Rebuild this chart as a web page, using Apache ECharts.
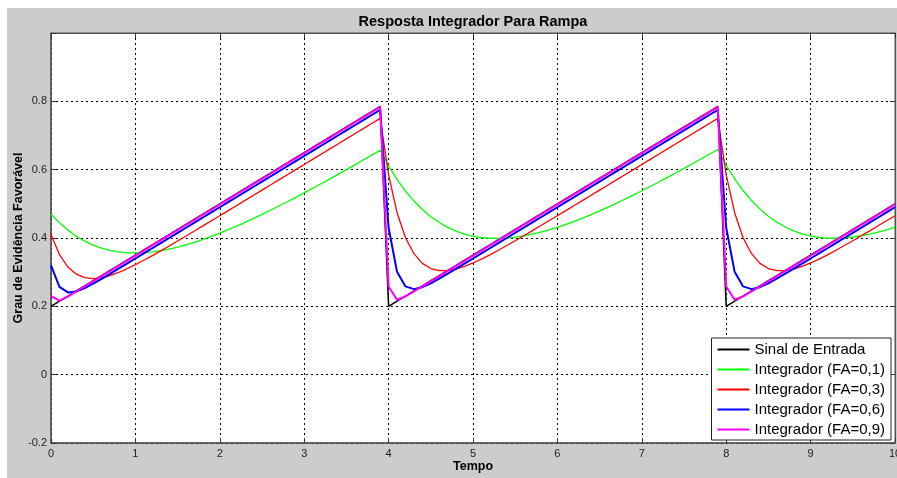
<!DOCTYPE html>
<html>
<head>
<meta charset="utf-8">
<script src="https://cdn.jsdelivr.net/npm/echarts@6.0.0/dist/echarts.min.js"></script>
<style>
html,body{margin:0;padding:0;background:#fff;}
#chart{width:897px;height:478px;}
</style>
</head>
<body>
<div id="chart"></div>
<script>
var tempo = [0,0.1,0.2,0.3,0.4,0.5,0.6,0.7,0.8,0.9,1,1.1,1.2,1.3,1.4,1.5,1.6,1.7,1.8,1.9,2,2.1,2.2,2.3,2.4,2.5,2.6,2.7,2.8,2.9,3,3.1,3.2,3.3,3.4,3.5,3.6,3.7,3.8,3.9,4,4.1,4.2,4.3,4.4,4.5,4.6,4.7,4.8,4.9,5,5.1,5.2,5.3,5.4,5.5,5.6,5.7,5.8,5.9,6,6.1,6.2,6.3,6.4,6.5,6.6,6.7,6.8,6.9,7,7.1,7.2,7.3,7.4,7.5,7.6,7.7,7.8,7.9,8,8.1,8.2,8.3,8.4,8.5,8.6,8.7,8.8,8.9,9,9.1,9.2,9.3,9.4,9.5,9.6,9.7,9.8,9.9,10];

var sinalEntrada = [
0.2,0.215,0.23,0.245,0.26,0.275,0.29,0.305,0.32,0.335,0.35,0.365,0.38,0.395,0.41,0.425,0.44,0.455,0.47,0.485,0.5,0.515,0.53,0.545,0.56,0.575,0.59,0.605,0.62,0.635,0.65,0.665,0.68,0.695,0.71,0.725,0.74,0.755,0.77,0.785,
0.2,0.215,0.23,0.245,0.26,0.275,0.29,0.305,0.32,0.335,0.35,0.365,0.38,0.395,0.41,0.425,0.44,0.455,0.47,0.485,0.5,0.515,0.53,0.545,0.56,0.575,0.59,0.605,0.62,0.635,0.65,0.665,0.68,0.695,0.71,0.725,0.74,0.755,0.77,0.785,
0.2,0.215,0.23,0.245,0.26,0.275,0.29,0.305,0.32,0.335,0.35,0.365,0.38,0.395,0.41,0.425,0.44,0.455,0.47,0.485,0.5];

var integradorFA01 = [
0.47,0.4445,0.4231,0.4052,0.3907,0.3791,0.3702,0.3637,0.3593,0.3569,0.3562,0.3571,0.3594,0.3629,0.3677,0.3734,0.38,0.3875,0.3958,0.4047,0.4142,0.4243,0.4349,0.4459,0.4573,0.4691,0.4812,0.4936,0.5062,0.5191,0.5322,0.5455,0.5589,0.5725,0.5863,0.6001,0.6141,0.6282,0.6424,0.6567,
0.611,0.5714,0.5373,0.5081,0.4833,0.4624,0.4452,0.4312,0.4201,0.4115,0.4054,0.4014,0.3992,0.3988,0.3999,0.4024,0.4062,0.4111,0.417,0.4238,0.4314,0.4398,0.4488,0.4584,0.4686,0.4792,0.4903,0.5018,0.5136,0.5257,0.5382,0.5508,0.5638,0.5769,0.5902,0.6037,0.6173,0.6311,0.645,0.659,
0.6131,0.5733,0.539,0.5096,0.4846,0.4637,0.4463,0.4322,0.4209,0.4123,0.4061,0.402,0.3998,0.3993,0.4004,0.4029,0.4066,0.4114,0.4173,0.424,0.4316];

var integradorFA03 = [
0.41,0.3515,0.3151,0.294,0.2838,0.2812,0.2838,0.2902,0.2991,0.3099,0.3219,0.3348,0.3484,0.3624,0.3767,0.3912,0.4058,0.4206,0.4354,0.4503,0.4652,0.4801,0.4951,0.5101,0.525,0.54,0.555,0.57,0.585,0.6,0.615,0.63,0.645,0.66,0.675,0.69,0.705,0.72,0.735,0.75,
0.585,0.474,0.4008,0.3541,0.3258,0.3106,0.3044,0.3046,0.3092,0.317,0.3269,0.3383,0.3508,0.3641,0.3779,0.392,0.4064,0.421,0.4357,0.4505,0.4653,0.4802,0.4952,0.5101,0.5251,0.5401,0.555,0.57,0.585,0.6,0.615,0.63,0.645,0.66,0.675,0.69,0.705,0.72,0.735,0.75,
0.585,0.474,0.4008,0.3541,0.3258,0.3106,0.3044,0.3046,0.3092,0.317,0.3269,0.3383,0.3508,0.3641,0.3779,0.392,0.4064,0.421,0.4357,0.4505,0.4653];

var integradorFA06 = [
0.32,0.257,0.2408,0.2433,0.2533,0.2663,0.2805,0.2952,0.3101,0.325,0.34,0.355,0.37,0.385,0.4,0.415,0.43,0.445,0.46,0.475,0.49,0.505,0.52,0.535,0.55,0.565,0.58,0.595,0.61,0.625,0.64,0.655,0.67,0.685,0.7,0.715,0.73,0.745,0.76,0.775,
0.43,0.301,0.2584,0.2504,0.2561,0.2675,0.281,0.2954,0.3102,0.3251,0.34,0.355,0.37,0.385,0.4,0.415,0.43,0.445,0.46,0.475,0.49,0.505,0.52,0.535,0.55,0.565,0.58,0.595,0.61,0.625,0.64,0.655,0.67,0.685,0.7,0.715,0.73,0.745,0.76,0.775,
0.43,0.301,0.2584,0.2504,0.2561,0.2675,0.281,0.2954,0.3102,0.3251,0.34,0.355,0.37,0.385,0.4,0.415,0.43,0.445,0.46,0.475,0.49];

var integradorFA09 = [
0.23,0.2165,0.2287,0.2434,0.2583,0.2733,0.2883,0.3033,0.3183,0.3333,0.3483,0.3633,0.3783,0.3933,0.4083,0.4233,0.4383,0.4533,0.4683,0.4833,0.4983,0.5133,0.5283,0.5433,0.5583,0.5733,0.5883,0.6033,0.6183,0.6333,0.6483,0.6633,0.6783,0.6933,0.7083,0.7233,0.7383,0.7533,0.7683,0.7833,
0.2583,0.2193,0.2289,0.2434,0.2583,0.2733,0.2883,0.3033,0.3183,0.3333,0.3483,0.3633,0.3783,0.3933,0.4083,0.4233,0.4383,0.4533,0.4683,0.4833,0.4983,0.5133,0.5283,0.5433,0.5583,0.5733,0.5883,0.6033,0.6183,0.6333,0.6483,0.6633,0.6783,0.6933,0.7083,0.7233,0.7383,0.7533,0.7683,0.7833,
0.2583,0.2193,0.2289,0.2434,0.2583,0.2733,0.2883,0.3033,0.3183,0.3333,0.3483,0.3633,0.3783,0.3933,0.4083,0.4233,0.4383,0.4533,0.4683,0.4833,0.4983];

var seriesNames = ['Sinal de Entrada','Integrador (FA=0,1)','Integrador (FA=0,3)','Integrador (FA=0,6)','Integrador (FA=0,9)'];
var seriesColors = ['#000000','#00ff00','#ff0000','#0000ff','#ff00ff'];
var seriesValues = [sinalEntrada, integradorFA01, integradorFA03, integradorFA06, integradorFA09];
var seriesWidths = [1.5, 1.3, 1.3, 2, 2];

var xTicks = [0,1,2,3,4,5,6,7,8,9,10];

function pairs(vals){
  return tempo.map(function(t,i){ return [t, vals[i]]; });
}

var chart = echarts.init(document.getElementById('chart'), null, {renderer:'canvas'});
var FONT = 'Liberation Sans, Arial, sans-serif';

var series = seriesNames.map(function(n,i){
  return {
    name: n, type: 'line', data: pairs(seriesValues[i]),
    xAxisIndex: 0, yAxisIndex: 0,
    showSymbol: false, symbol: 'none', smooth: false,
    lineStyle: {color: seriesColors[i], width: seriesWidths[i]},
    itemStyle: {color: seriesColors[i]},
    z: 3 + i, animation: false
  };
});

var option = {
  animation: false,
  backgroundColor: '#ffffff',
  graphic: [{
    type: 'rect', left: 7, top: 8, z: -10,
    shape: {x: 0, y: 0, width: 890, height: 470},
    style: {fill: '#cccccc'}, silent: true
  }],
  title: {
    text: 'Resposta Integrador Para Rampa',
    left: 468, top: 9, textAlign: 'center',
    textStyle: {fontFamily: FONT, fontSize: 14.5, fontWeight: 'bold', color: '#000'}
  },
  grid: {
    left: 51, right: 2, top: 33, bottom: 35,
    show: true, backgroundColor: '#ffffff', borderColor: '#555', borderWidth: 1,
    containLabel: false, outerBoundsMode: 'none'
  },
  legend: {
    orient: 'vertical', right: 6, top: 338,
    data: seriesNames.map(function(n,i){ return {name:n, icon:'rect', itemStyle:{color:seriesColors[i]}}; }),
    itemWidth: 32, itemHeight: 2, itemGap: 5,
    padding: [4, 6, 3, 6],
    backgroundColor: '#ffffff', borderColor: '#222', borderWidth: 1,
    textStyle: {fontFamily: FONT, fontSize: 15, color: '#000'},
    selectedMode: false
  },
  xAxis: [{
    type: 'value', min: 0, max: 10, interval: 1, position: 'bottom',
    name: 'Tempo', nameLocation: 'middle', nameGap: 17, nameMoveOverlap: false,
    nameTextStyle: {fontFamily: FONT, fontSize: 12.5, fontWeight: 'bold', color: '#000'},
    axisLine: {show: true, onZero: false, lineStyle: {color: '#555', width: 1.5}},
    axisTick: {show: true, inside: true, length: 5, lineStyle: {color: '#333'}},
    axisLabel: {fontFamily: FONT, fontSize: 11, color: '#222', margin: 5, hideOverlap: false,
      formatter: function(v){ return xTicks.indexOf(v) >= 0 ? String(v) : ''; }},
    splitLine: {show: true, lineStyle: {color: '#000', type: [2,3], width: 1}}
  },{
    type: 'value', min: 0, max: 10, interval: 1, position: 'top',
    axisLine: {show: true, onZero: false, lineStyle: {color: '#555', width: 1}},
    axisTick: {show: true, inside: true, length: 5, lineStyle: {color: '#333'}},
    axisLabel: {show: false}, splitLine: {show: false}
  }],
  yAxis: [{
    type: 'value', min: -0.2, max: 1, interval: 0.2, position: 'left',
    name: 'Grau de Evidência Favorável', nameLocation: 'middle', nameGap: 26, nameRotate: 90, nameMoveOverlap: false,
    nameTextStyle: {fontFamily: FONT, fontSize: 12.5, fontWeight: 'bold', color: '#000'},
    axisLine: {show: true, onZero: false, lineStyle: {color: '#555', width: 1.5}},
    axisTick: {show: true, inside: true, length: 5, lineStyle: {color: '#333'}},
    axisLabel: {fontFamily: FONT, fontSize: 11, color: '#222', margin: 4,
      formatter: function(v){ if (v > 0.9) return ''; return String(Math.round(v*10)/10); }},
    splitLine: {show: true, lineStyle: {color: '#000', type: [2,3], width: 1}}
  },{
    type: 'value', min: -0.2, max: 1, interval: 0.2, position: 'right',
    axisLine: {show: true, onZero: false, lineStyle: {color: '#555', width: 1}},
    axisTick: {show: true, inside: true, length: 5, lineStyle: {color: '#333'}},
    axisLabel: {show: false}, splitLine: {show: false}
  }],
  series: series
};
chart.setOption(option);
</script>
</body>
</html>
